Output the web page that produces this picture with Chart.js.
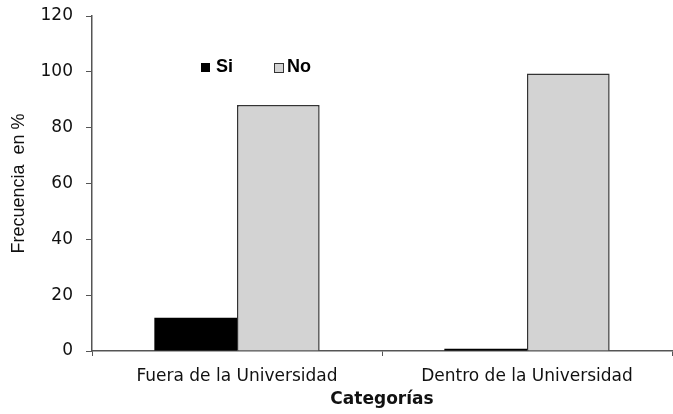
<!DOCTYPE html>
<html>
<head>
<meta charset="utf-8">
<script src="https://cdn.jsdelivr.net/npm/chart.js@4.4.0/dist/chart.umd.min.js"></script>
<style>
  html, body { margin: 0; padding: 0; background: #fff; }
  #wrap { width: 673px; height: 414px; }
</style>
</head>
<body>
<div id="wrap"><canvas id="barChart" width="673" height="414"></canvas></div>
<script>
// datos
const categorias = ['Fuera de la Universidad', 'Dentro de la Universidad'];
const valoresSi = [11.9, 0.8];
const valoresNo = [88.1, 99.4];
const ticksY = [0, 20, 40, 60, 80, 100, 120];

// leyenda dibujada dentro del area (como en el original)
const leyendaPlugin = {
    id: 'leyendaDentro',
    afterDraw(chart) {
        const ctx = chart.ctx;
        ctx.save();
        ctx.font = 'bold 18px "Liberation Sans"';
        ctx.textBaseline = 'middle';
        ctx.fillStyle = '#000';
        ctx.fillRect(201, 63, 9, 9);
        ctx.fillText('Si', 216, 67);
        ctx.fillStyle = '#d3d3d3';
        ctx.fillRect(274, 63, 9, 9);
        ctx.strokeStyle = '#333';
        ctx.lineWidth = 1;
        ctx.strokeRect(274.5, 63.5, 9, 9);
        ctx.fillStyle = '#000';
        ctx.fillText('No', 287, 67);
        ctx.restore();
    }
};

const ctx = document.getElementById('barChart').getContext('2d');
window.myChart = new Chart(ctx, {
    type: 'bar',
    data: {
        labels: categorias,
        datasets: [{
            label: 'Si',
            data: valoresSi,
            backgroundColor: '#000000',
            borderColor: '#000000',
            borderWidth: 0
        }, {
            label: 'No',
            data: valoresNo,
            backgroundColor: '#d3d3d3',
            borderColor: '#333333',
            borderWidth: 1.5
        }]
    },
    options: {
        responsive: false,
        animation: false,
        layout: { padding: { left: 0, right: 1, top: 16, bottom: 0 } },
        plugins: {
            legend: { display: false },
            tooltip: { enabled: false }
        },
        datasets: {
            bar: { categoryPercentage: 0.57, barPercentage: 1.0 }
        },
        scales: {
            x: {
                grid: {
                    offset: true,
                    drawOnChartArea: false,
                    drawTicks: true,
                    tickLength: 5,
                    color: '#555'
                },
                border: { color: '#555', width: 1.5 },
                ticks: {
                    color: '#111',
                    font: { family: '"DejaVu Sans"', size: 17 },
                    padding: 10
                },
                title: {
                    display: true,
                    text: 'Categorías',
                    color: '#111',
                    font: { family: '"DejaVu Sans"', size: 17, weight: 'bold' },
                    padding: { top: 2 }
                },
                afterFit(scale) { scale.height = 63; }
            },
            y: {
                min: 0,
                max: 120,
                afterBuildTicks(scale) {
                    scale.ticks = ticksY.map(v => ({ value: v }));
                },
                grid: {
                    drawOnChartArea: false,
                    drawTicks: true,
                    tickLength: 6,
                    color: '#555'
                },
                border: { color: '#555', width: 1.5 },
                ticks: {
                    color: '#111',
                    font: { family: '"DejaVu Sans"', size: 17 },
                    padding: 13
                },
                title: {
                    display: true,
                    text: 'Frecuencia  en %',
                    color: '#111',
                    font: { family: '"Liberation Sans Narrow", "Liberation Sans"', size: 18 },
                    padding: { top: 8, bottom: 0 }
                },
                afterFit(scale) {
                    scale.width = 92;
                    scale.paddingTop = 0;
                    scale.paddingBottom = 0;
                }
            }
        }
    },
    plugins: [leyendaPlugin]
});
</script>
</body>
</html>
